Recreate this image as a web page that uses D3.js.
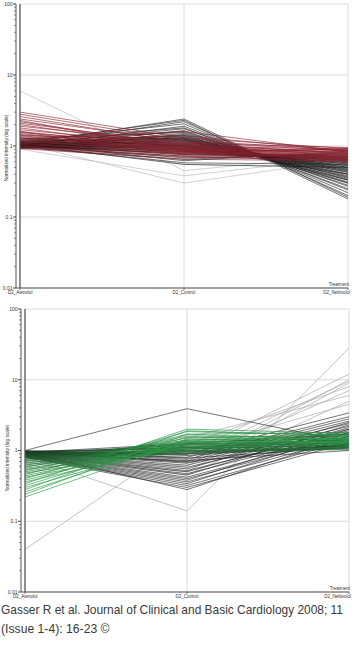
<!DOCTYPE html>
<html>
<head>
<meta charset="utf-8">
<script src="https://cdn.jsdelivr.net/npm/d3@7"></script>
<style>
html,body{margin:0;padding:0;background:#fff;}
svg{display:block;}
</style>
</head>
<body>
<svg id="chart" width="358" height="661"></svg>
<script>
// ---------- DATA ----------
const categories = ["D2_Atenolol", "D2_Control", "D2_Nebivolol"];
const yTickValues = [0.01, 0.1, 1, 10, 100];
const yTickLabels = ["0.01", "0.1", "1", "10", "100"];
const yTitle = "Normalized intensity (log scale)";
const xTitle = "Treatment";
const footerLines = ["Gasser R et al. Journal of Clinical and Basic Cardiology 2008; 11", "(Issue 1-4): 16-23 \u00A9"];

// Top panel: black (unregulated) profiles
const topBlack = [
[1.05,2.40,0.19],[1.10,2.30,0.18],[1.00,2.20,0.20],[1.15,2.05,0.22],[0.98,1.90,0.24],
[1.20,1.80,0.25],[1.05,1.75,0.27],[0.95,1.65,0.28],[1.10,1.60,0.30],[1.25,1.55,0.31],
[1.00,1.50,0.33],[0.92,1.45,0.35],[1.08,1.42,0.30],[1.15,1.38,0.36],[1.02,1.35,0.38],
[0.96,1.32,0.40],[1.12,1.30,0.34],[1.05,1.27,0.42],[0.94,1.25,0.44],[1.18,1.22,0.37],
[1.00,1.20,0.46],[1.06,1.18,0.40],[0.97,1.15,0.48],[1.10,1.13,0.43],[1.03,1.10,0.50],
[0.93,1.08,0.45],[1.14,1.06,0.52],[1.00,1.04,0.47],[1.07,1.02,0.55],[0.95,1.00,0.50],
[1.12,0.98,0.58],[1.01,0.96,0.53],[0.98,0.94,0.60],[1.09,0.92,0.56],[1.04,0.90,0.62],
[0.96,0.88,0.65],[1.11,0.86,0.58],[1.00,0.84,0.68],[1.06,0.82,0.63],[0.97,0.80,0.70],
[1.02,0.78,0.66],[1.08,0.75,0.72],[0.99,0.72,0.75],[1.04,0.68,0.78],[0.95,0.65,0.80],
[1.10,0.62,0.85],[1.00,0.58,0.55],[1.05,0.55,0.50],[1.30,1.00,0.40],[1.40,1.25,0.33]
];
// Top panel: red (selected) profiles
const topRed = [
[3.00,1.30,0.92],[2.80,1.20,0.88],[2.60,1.10,0.95],[2.40,1.15,0.85],[2.20,1.00,0.90],
[2.10,1.05,0.80],[2.00,0.95,0.86],[1.90,1.10,0.78],[1.80,0.90,0.83],[1.70,1.00,0.75],
[1.60,0.92,0.80],[1.55,1.05,0.72],[1.50,0.88,0.77],[1.45,0.97,0.70],[1.40,0.85,0.74],
[1.35,0.93,0.68],[1.30,0.82,0.72],[1.25,0.90,0.66],[1.20,0.80,0.70],[1.15,0.87,0.64],
[1.10,0.78,0.68],[1.05,0.84,0.62],[1.00,0.76,0.66],[0.98,0.72,0.60],[0.95,0.70,0.64],
[1.25,1.60,0.82],[1.10,1.40,0.85],[0.92,0.65,0.62],[1.60,0.75,0.93],[2.30,0.85,0.89]
];
// Top panel: faint grey profiles
const topGrey = [
[6.00,0.45,0.75],[1.10,0.30,0.65],[0.90,0.38,0.70],[1.30,0.55,0.50]
];

// Bottom panel: green (selected) profiles
const bottomGreen = [
[0.97,1.05,1.20],[0.95,0.95,1.10],[0.93,1.10,1.30],[0.90,1.00,1.15],[0.88,1.20,1.40],
[0.86,0.98,1.05],[0.84,1.15,1.25],[0.82,0.90,1.10],[0.80,1.30,1.50],[0.78,1.05,1.20],
[0.76,0.95,1.08],[0.74,1.25,1.35],[0.72,1.10,1.18],[0.70,1.40,1.60],[0.68,1.00,1.12],
[0.66,1.20,1.30],[0.64,0.92,1.05],[0.62,1.35,1.45],[0.60,1.05,1.22],[0.58,1.50,1.70],
[0.56,1.15,1.28],[0.54,0.98,1.10],[0.52,1.60,1.55],[0.50,1.25,1.35],[0.48,1.08,1.20],
[0.46,1.70,1.80],[0.44,1.30,1.40],[0.42,1.12,1.25],[0.40,1.85,1.65],[0.38,1.40,1.50],
[0.36,1.20,1.30],[0.34,2.00,1.75],[0.32,1.55,1.45],[0.30,1.30,1.35],[0.28,1.90,1.60],
[0.26,1.45,1.50],[0.24,1.70,1.40],[0.22,1.35,1.30]
];
// Bottom panel: black (unregulated) profiles
const bottomBlack = [
[1.00,3.90,1.30],[0.98,0.88,3.40],[0.97,0.80,3.00],[0.96,0.75,2.80],[0.95,0.70,2.60],
[0.94,0.66,2.40],[0.93,0.62,2.20],[0.92,0.58,2.00],[0.91,0.55,2.50],[0.90,0.52,1.90],
[0.89,0.50,2.10],[0.88,0.47,1.80],[0.87,0.45,2.30],[0.86,0.42,1.70],[0.85,0.40,1.60],
[0.84,0.38,2.00],[0.83,0.36,1.50],[0.82,0.34,1.80],[0.81,0.32,1.40],[0.80,0.30,1.30],
[0.95,0.28,1.60],[0.99,0.85,1.20],[0.97,0.78,1.10],[0.92,0.72,1.00],[0.90,0.90,1.15],
[0.96,1.10,1.45],[0.94,1.25,1.70],[0.98,0.68,1.25]
];
// Bottom panel: faint grey profiles
const bottomGrey = [
[0.82,0.14,28.0],[0.04,1.50,6.0],[0.95,0.90,12.0],[0.90,0.60,10.0],[0.85,0.50,9.0],
[0.92,1.20,8.0],[0.88,0.70,7.0],[0.97,0.45,5.0],[0.93,0.80,9.5],[0.80,1.00,4.5]
];

// ---------- DRAW ----------
const svg = d3.select("#chart");
const font = "Liberation Sans, Arial, sans-serif";

function panel(cfg) {
  const x = d3.scalePoint().domain(categories).range([cfg.x0, cfg.x1]);
  const y = d3.scaleLog().domain([0.01, 100]).range([cfg.yb, cfg.yt]);
  const g = svg.append("g");

  g.selectAll(".hg").data(yTickValues).enter().append("line")
    .attr("x1", cfg.x0).attr("x2", cfg.x1)
    .attr("y1", d => y(d)).attr("y2", d => y(d))
    .attr("stroke", "#dcdcdc").attr("stroke-width", 1);
  g.selectAll(".vg").data(categories.slice(1)).enter().append("line")
    .attr("x1", d => x(d)).attr("x2", d => x(d))
    .attr("y1", cfg.yt).attr("y2", cfg.yb)
    .attr("stroke", "#dcdcdc").attr("stroke-width", 1);

  const line = d3.line().x((d, i) => x(categories[i])).y(d => y(d));
  const clipId = "clip" + cfg.id;
  svg.append("clipPath").attr("id", clipId).append("rect")
    .attr("x", cfg.x0).attr("y", cfg.yt).attr("width", cfg.x1 - cfg.x0).attr("height", cfg.yb - cfg.yt);
  const lg = g.append("g").attr("clip-path", `url(#${clipId})`);

  cfg.series.forEach(s => {
    lg.selectAll(null).data(s.data).enter().append("path")
      .attr("d", line)
      .attr("fill", "none")
      .attr("stroke", (d, i) => typeof s.color === "function" ? s.color(d, i, s.data.length) : s.color)
      .attr("stroke-opacity", s.opacity)
      .attr("stroke-width", s.width);
  });

  const minor = [];
  for (let e = -2; e < 2; e++) for (let k = 2; k <= 9; k++) minor.push(k * Math.pow(10, e));
  const ax = cfg.x0 - 4;
  g.append("line").attr("x1", ax).attr("x2", ax).attr("y1", cfg.yt).attr("y2", cfg.yb)
    .attr("stroke", "#555").attr("stroke-width", 1);
  g.selectAll(".mt").data(minor).enter().append("line")
    .attr("x1", ax - 2).attr("x2", ax).attr("y1", d => y(d)).attr("y2", d => y(d))
    .attr("stroke", "#666").attr("stroke-width", 0.8);
  g.selectAll(".Mt").data(yTickValues).enter().append("line")
    .attr("x1", ax - 3).attr("x2", ax).attr("y1", d => y(d)).attr("y2", d => y(d))
    .attr("stroke", "#444").attr("stroke-width", 1);
  g.selectAll(".yl").data(yTickValues).enter().append("text")
    .attr("x", ax - 3.5).attr("y", d => y(d) + 1.8)
    .attr("text-anchor", "end").attr("font-family", font).attr("font-size", 5)
    .attr("fill", "#333").text((d, i) => yTickLabels[i]);

  g.append("line").attr("x1", cfg.x0).attr("x2", cfg.x0).attr("y1", cfg.yt).attr("y2", cfg.yb)
    .attr("stroke", "#555").attr("stroke-width", 1.3);
  g.append("line").attr("x1", ax).attr("x2", cfg.x1).attr("y1", cfg.yb).attr("y2", cfg.yb)
    .attr("stroke", "#555").attr("stroke-width", 1.2);
  g.selectAll(".xt").data(categories).enter().append("line")
    .attr("x1", d => x(d)).attr("x2", d => x(d)).attr("y1", cfg.yb).attr("y2", cfg.yb + 2)
    .attr("stroke", "#555").attr("stroke-width", 0.8);
  g.selectAll(".xl").data(categories).enter().append("text")
    .attr("x", (d, i) => i === 0 ? x(d) - 12 : (i === 2 ? cfg.x1 + 2 : x(d)))
    .attr("y", cfg.yb + 6)
    .attr("text-anchor", (d, i) => i === 0 ? "start" : (i === 2 ? "end" : "middle"))
    .attr("font-family", font).attr("font-size", 4.5).attr("fill", "#333").text(d => d);
  g.append("text").attr("x", cfg.x1 + 1).attr("y", cfg.yb - 2.5)
    .attr("text-anchor", "end").attr("font-family", font).attr("font-size", 4.5)
    .attr("fill", "#333").text(xTitle);
  g.append("text").attr("transform", `translate(${cfg.titleX},${cfg.titleY}) rotate(-90)`)
    .attr("text-anchor", "middle").attr("font-family", font).attr("font-size", 4.8)
    .attr("fill", "#333").text(yTitle);
}

const greenScale = d3.interpolateRgb("#1c4a26", "#2aa44a");

panel({
  id: 1, x0: 20, x1: 348, yt: 4, yb: 288, titleX: 8, titleY: 148,
  series: [
    { data: topGrey, color: "#b8b8b8", opacity: 0.8, width: 0.8 },
    { data: topBlack, color: "#1a1a1a", opacity: 0.75, width: 0.8 },
    { data: topRed, color: "#8c1f2c", opacity: 0.8, width: 0.8 }
  ]
});

panel({
  id: 2, x0: 25, x1: 349, yt: 309, yb: 592, titleX: 9, titleY: 458,
  series: [
    { data: bottomGrey, color: "#a8a8a8", opacity: 0.85, width: 0.8 },
    { data: bottomBlack, color: "#1a1a1a", opacity: 0.75, width: 0.8 },
    { data: bottomGreen, color: (d, i, n) => greenScale(i / (n - 1)), opacity: 0.85, width: 0.8 }
  ]
});

// footer citation
const ft = svg.append("g");
footerLines.forEach((t, i) => {
  ft.append("text").attr("x", 1).attr("y", 614 + i * 19)
    .attr("font-family", font).attr("font-size", 12.2).attr("fill", "#3a3a3a")
    .attr("textLength", i === 0 ? 342 : null)
    .attr("lengthAdjust", "spacingAndGlyphs")
    .text(t);
});
</script>
</body>
</html>
